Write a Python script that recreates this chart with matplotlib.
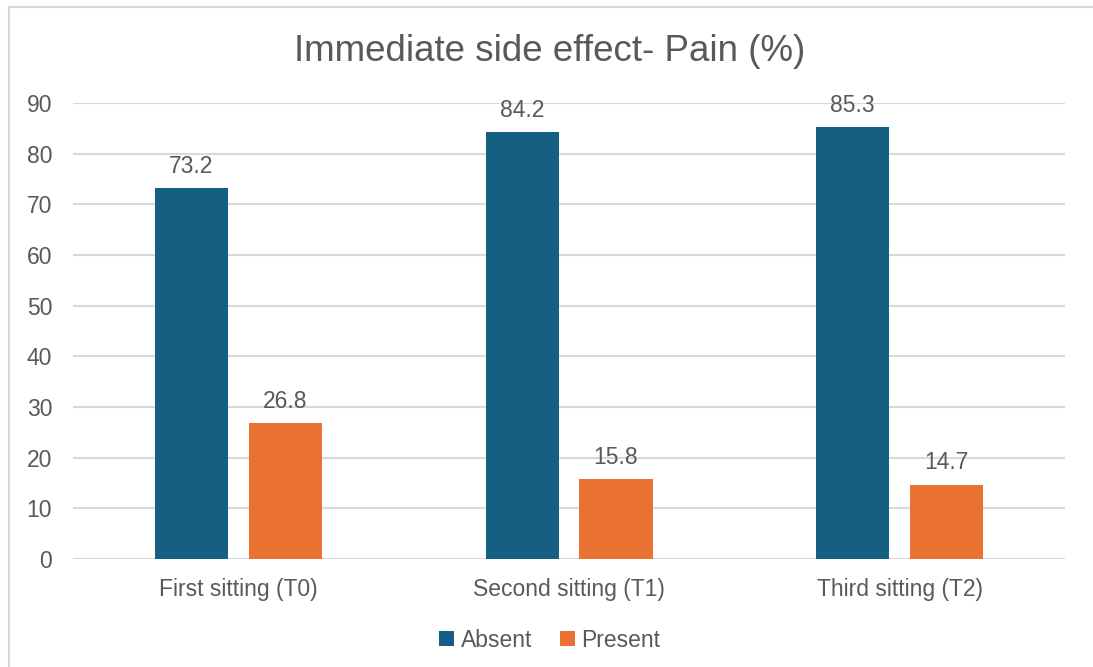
import numpy as np
import matplotlib.pyplot as plt
from matplotlib.lines import Line2D

plt.rcParams['font.family'] = ['Liberation Sans', 'DejaVu Sans']

sittings = ['First sitting (T0)', 'Second sitting (T1)', 'Third sitting (T2)']
absent = [73.2, 84.2, 85.3]
present = [26.8, 15.8, 14.7]

BLUE = '#156082'
ORANGE = '#E97132'
TEXT = '#595959'
GRID = '#D9D9D9'

fig = plt.figure(figsize=(10.93, 6.67), dpi=100)
ax = fig.add_axes([0.0668, 0.1619, 0.9076, 0.6837])

x = np.arange(len(sittings))
w = 0.221
off = 0.142
b1 = ax.bar(x - off, absent, w, color=BLUE, label='Absent', zorder=3)
b2 = ax.bar(x + off, present, w, color=ORANGE, label='Present', zorder=3)

for bars, vals in ((b1, absent), (b2, present)):
    for r, v in zip(bars, vals):
        ax.text(r.get_x() + r.get_width() / 2, v + 2.0, f'{v:.1f}',
                ha='center', va='bottom', fontsize=16.5, color=TEXT)

ax.set_xlim(-0.5, 2.5)
ax.set_ylim(0, 90)
ax.set_yticks(range(0, 91, 10))
ax.set_xticks(x)
ax.set_xticklabels(sittings)
ax.yaxis.grid(True, color=GRID, linewidth=1.5, zorder=0)
ax.tick_params(axis='both', length=0, labelsize=16.5, labelcolor=TEXT)
ax.tick_params(axis='y', pad=15)
ax.tick_params(axis='x', pad=14)
for s in ax.spines.values():
    s.set_visible(False)

fig.text(0.503, 0.923, 'Immediate side effect- Pain (%)', ha='center', va='center',
         fontsize=26.5, color=TEXT)

fig.legend(loc='center', bbox_to_anchor=(0.503, 0.04), ncol=2, frameon=False,
           fontsize=16.5, labelcolor=TEXT, handlelength=0.65, handleheight=0.65,
           handletextpad=0.3, columnspacing=1.2)

# chart frame: top and left edges only
top = 1 - 6.5 / 667
left = 8.5 / 1093
fig.lines.append(Line2D([left, 1], [top, top], transform=fig.transFigure,
                        color=GRID, linewidth=1.5))
fig.lines.append(Line2D([left, left], [0, top], transform=fig.transFigure,
                        color=GRID, linewidth=1.5))

fig.savefig('out.png', dpi=100)
